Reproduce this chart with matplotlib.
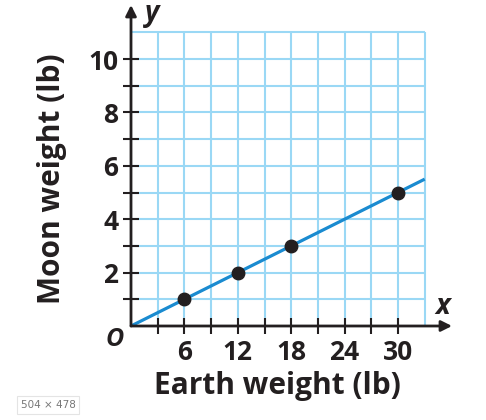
import matplotlib
matplotlib.use('Agg')
import matplotlib.pyplot as plt

# data
earth = [6, 12, 18, 30]
moon = [1, 2, 3, 5]
line_x = [0, 33]
line_y = [0, 5.5]
grid_x = [3, 6, 9, 12, 15, 18, 21, 24, 27, 30, 33]
grid_y = [1, 2, 3, 4, 5, 6, 7, 8, 9, 10, 11]
xtick_major = [6, 12, 18, 24, 30]
xtick_minor = [3, 9, 15, 21, 27]
ytick_major = [2, 4, 6, 8, 10]
ytick_minor = [1, 3, 5, 7, 9]

DARK = '#231f20'
GRID = '#9ad8f5'
BLUE = '#1a8bd0'
FONT = 'Open Sans'

fig = plt.figure(figsize=(4.86, 4.2), dpi=100)
# axes box in pixels: origin at (131, 326), x ends at 452, y ends at 5
ax = fig.add_axes([131 / 486, (420 - 326) / 420, 321 / 486, 321 / 420])
ax.set_xlim(0, 321 / 8.9)
ax.set_ylim(0, 321 / 26.7)

ax.vlines(grid_x, 0, max(grid_y), color=GRID, lw=1.5, zorder=1)
ax.hlines(grid_y, 0, max(grid_x), color=GRID, lw=1.5, zorder=1)

ax.plot(line_x, line_y, color=BLUE, lw=2.3, zorder=3, solid_capstyle='butt')
ax.plot(earth, moon, 'o', color=DARK, ms=9, zorder=4)

for s in ax.spines.values():
    s.set_visible(False)

# axes with arrows
ax.annotate('', xy=(321 / 8.9, 0), xytext=(0, 0),
            arrowprops=dict(arrowstyle='-|>', color=DARK, lw=2, mutation_scale=16,
                            shrinkA=0, shrinkB=0), annotation_clip=False, zorder=5)
ax.annotate('', xy=(0, 321 / 26.7), xytext=(0, 0),
            arrowprops=dict(arrowstyle='-|>', color=DARK, lw=2, mutation_scale=16,
                            shrinkA=0, shrinkB=0), annotation_clip=False, zorder=5)

ax.set_xticks(xtick_major)
ax.set_xticks(xtick_minor, minor=True)
ax.set_yticks(ytick_major)
ax.set_yticks(ytick_minor, minor=True)
ax.set_xticklabels([str(v) for v in xtick_major], fontsize=19, fontweight='bold',
                   family=FONT, color=DARK)
ax.set_yticklabels([str(v) for v in ytick_major], fontsize=19, fontweight='bold',
                   family=FONT, color=DARK)
ax.tick_params(which='both', direction='inout', length=12, width=1.5, color=DARK)
ax.tick_params(axis='x', which='major', pad=3)
ax.tick_params(axis='y', which='major', pad=3)

ax.text(16.5, -2.25, 'Earth weight (lb)', ha='center', va='center', fontsize=21.5,
        fontweight='bold', family=FONT, color=DARK)
ax.text(-8.9, 5.5, 'Moon weight (lb)', ha='center', va='center', rotation=90,
        fontsize=21.5, fontweight='bold', family=FONT, color=DARK)

ax.text(-1.8, -0.52, 'O', ha='center', va='center', fontsize=18, fontweight='bold',
        fontstyle='italic', family=FONT, color=DARK)
ax.text(35.0, 0.72, 'x', ha='center', va='center', fontsize=20, fontweight='bold',
        fontstyle='italic', family=FONT, color=DARK)
ax.text(2.4, 11.7, 'y', ha='center', va='center', fontsize=20, fontweight='bold',
        fontstyle='italic', family=FONT, color=DARK)

fig.text(48 / 486, 1 - 405 / 420, '504 × 478', ha='center', va='center', fontsize=7.5,
         color='#777777',
         bbox=dict(boxstyle='square,pad=0.35', fc='white', ec='#e4e4e4', lw=0.8))

fig.savefig('out.png', dpi=100)
